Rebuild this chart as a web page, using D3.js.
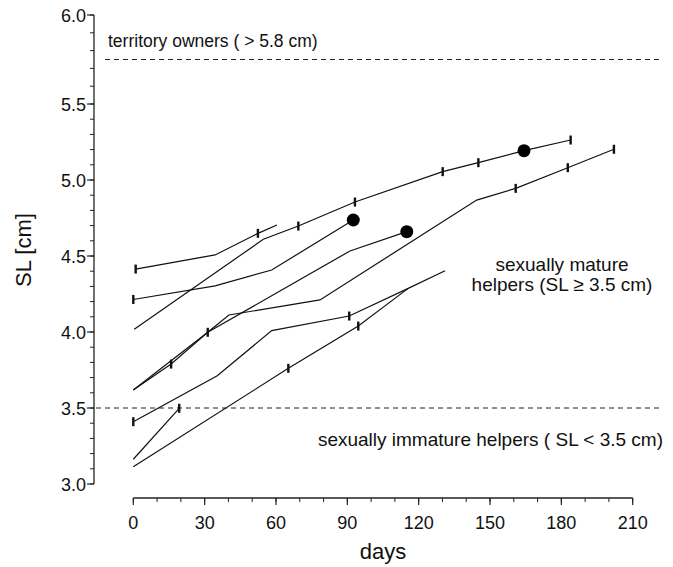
<!DOCTYPE html>
<html>
<head>
<meta charset="utf-8">
<script src="https://cdn.jsdelivr.net/npm/d3@7"></script>
<style>
  body { margin: 0; background: #fff; }
  text { font-family: "Liberation Sans", Arial, sans-serif; fill: #111; }
</style>
</head>
<body>
<div id="chart"></div>
<script>
// growth of single helpers, days vs standard length (cm)
var daysA = [1, 34.4, 52.4, 60.4];
var slA   = [4.414, 4.507, 4.649, 4.704];
var daysB = [0, 34.4, 58.2, 92.5];
var slB   = [4.214, 4.303, 4.408, 4.737];
var daysC = [0.4, 54.7, 69.4, 93.2, 130.1, 145.1, 164.3, 183.9];
var slC   = [4.018, 4.61, 4.697, 4.855, 5.055, 5.114, 5.193, 5.263];
var daysD = [0, 15.9, 31.3, 40.2, 78.5, 144.4, 160.8, 182.7, 202.1];
var slD   = [3.618, 3.789, 3.998, 4.112, 4.211, 4.868, 4.945, 5.081, 5.202];
var daysE = [0, 31.3, 62.4, 91.1, 115];
var slE   = [3.618, 3.998, 4.276, 4.533, 4.66];
var daysF = [0, 35.3, 58.2, 90.8, 115.6, 131.1];
var slF   = [3.41, 3.712, 4.009, 4.105, 4.287, 4.403];
var daysG = [0, 65.2, 94.6, 115.6];
var slG   = [3.114, 3.761, 4.039, 4.287];
var daysH = [0, 19.3];
var slH   = [3.163, 3.498];

// which points carry a measurement bar, which end in a dot
var barsA = [0, 2], barsB = [0], barsC = [2, 3, 4, 5, 7], barsD = [1, 2, 6, 7, 8];
var barsE = [], barsF = [0, 3], barsG = [1, 2], barsH = [1];
var dotB = [3], dotC = [6], dotE = [4];

var xTicks = [0, 30, 60, 90, 120, 150, 180, 210];
var yTicks = [3.0, 3.5, 4.0, 4.5, 5.0, 5.5, 6.0];
var ownerLimit = 5.75;
var matureLimit = 3.5;

var series = [
  {d: daysA, v: slA, bars: barsA, dots: []},
  {d: daysB, v: slB, bars: barsB, dots: dotB},
  {d: daysC, v: slC, bars: barsC, dots: dotC},
  {d: daysD, v: slD, bars: barsD, dots: []},
  {d: daysE, v: slE, bars: barsE, dots: dotE},
  {d: daysF, v: slF, bars: barsF, dots: []},
  {d: daysG, v: slG, bars: barsG, dots: []},
  {d: daysH, v: slH, bars: barsH, dots: []}
];

var width = 673, height = 567;
var svg = d3.select("#chart").append("svg")
    .attr("width", width)
    .attr("height", height);

var x = d3.scaleLinear().domain([0, 210]).range([133.3, 632.7]);
// the printed axis is stretched above 5.5
var y = d3.scaleLinear().domain([3, 5.5, 6]).range([484, 104, 15]);

var axisX = 94;
var axisY = 498;

// y axis
svg.append("line")
    .attr("x1", axisX).attr("x2", axisX)
    .attr("y1", y(3)).attr("y2", y(6))
    .attr("stroke", "#222").attr("stroke-width", 1.3);
svg.selectAll(".yminor").data(d3.range(30, 61).map(function (i) { return i / 10; }))
  .enter().append("line")
    .attr("x1", axisX - 4).attr("x2", axisX)
    .attr("y1", function (d) { return y(d); })
    .attr("y2", function (d) { return y(d); })
    .attr("stroke", "#222").attr("stroke-width", 1);
svg.selectAll(".ymajor").data(yTicks).enter().append("line")
    .attr("x1", axisX - 7).attr("x2", axisX)
    .attr("y1", function (d) { return y(d); })
    .attr("y2", function (d) { return y(d); })
    .attr("stroke", "#222").attr("stroke-width", 1.2);
svg.selectAll(".ylab").data(yTicks).enter().append("text")
    .attr("x", axisX - 8)
    .attr("y", function (d) { return y(d) + 6.5; })
    .attr("text-anchor", "end")
    .attr("font-size", "18px")
    .text(function (d) { return d.toFixed(1); });

// x axis
svg.append("line")
    .attr("x1", x(0)).attr("x2", x(210))
    .attr("y1", axisY).attr("y2", axisY)
    .attr("stroke", "#222").attr("stroke-width", 1.3);
svg.selectAll(".xminor").data(d3.range(0, 211, 10)).enter().append("line")
    .attr("x1", function (d) { return x(d); })
    .attr("x2", function (d) { return x(d); })
    .attr("y1", axisY).attr("y2", axisY + 4)
    .attr("stroke", "#222").attr("stroke-width", 1);
svg.selectAll(".xmajor").data(xTicks).enter().append("line")
    .attr("x1", function (d) { return x(d); })
    .attr("x2", function (d) { return x(d); })
    .attr("y1", axisY).attr("y2", axisY + 7)
    .attr("stroke", "#222").attr("stroke-width", 1.2);
svg.selectAll(".xlab").data(xTicks).enter().append("text")
    .attr("x", function (d) { return x(d); })
    .attr("y", 529)
    .attr("text-anchor", "middle")
    .attr("font-size", "18px")
    .text(function (d) { return d; });

svg.append("text")
    .attr("x", 383).attr("y", 559)
    .attr("text-anchor", "middle")
    .attr("font-size", "22px")
    .text("days");
svg.append("text")
    .attr("transform", "translate(31,250) rotate(-90)")
    .attr("text-anchor", "middle")
    .attr("font-size", "22px")
    .text("SL [cm]");

// thresholds
svg.append("line")
    .attr("x1", 105).attr("x2", 663)
    .attr("y1", y(ownerLimit)).attr("y2", y(ownerLimit))
    .attr("stroke", "#222").attr("stroke-width", 1)
    .attr("stroke-dasharray", "5,4");
svg.append("line")
    .attr("x1", 96).attr("x2", 663)
    .attr("y1", y(matureLimit)).attr("y2", y(matureLimit))
    .attr("stroke", "#222").attr("stroke-width", 1)
    .attr("stroke-dasharray", "5,4");

svg.append("text").attr("x", 108).attr("y", 47)
    .attr("font-size", "17.5px")
    .text("territory owners ( > 5.8 cm)");
svg.append("text").attr("x", 562).attr("y", 271)
    .attr("text-anchor", "middle").attr("font-size", "19px")
    .text("sexually mature");
svg.append("text").attr("x", 562).attr("y", 291)
    .attr("text-anchor", "middle").attr("font-size", "19px")
    .text("helpers (SL \u2265 3.5 cm)");
svg.append("text").attr("x", 663).attr("y", 446)
    .attr("text-anchor", "end").attr("font-size", "19px")
    .text("sexually immature helpers ( SL < 3.5 cm)");

// growth lines
var line = d3.line()
    .x(function (p) { return x(p[0]); })
    .y(function (p) { return y(p[1]); });

series.forEach(function (s) {
  var pts = s.d.map(function (d, i) { return [d, s.v[i]]; });
  svg.append("path")
      .attr("d", line(pts))
      .attr("fill", "none")
      .attr("stroke", "#111")
      .attr("stroke-width", 1.2);
  svg.selectAll(null).data(s.bars.map(function (i) { return pts[i]; }))
    .enter().append("rect")
      .attr("x", function (p) { return x(p[0]) - 1.2; })
      .attr("y", function (p) { return y(p[1]) - 4.5; })
      .attr("width", 2.4).attr("height", 9)
      .attr("fill", "#111");
  svg.selectAll(null).data(s.dots.map(function (i) { return pts[i]; }))
    .enter().append("circle")
      .attr("cx", function (p) { return x(p[0]); })
      .attr("cy", function (p) { return y(p[1]); })
      .attr("r", 6.5)
      .attr("fill", "#000");
});
</script>
</body>
</html>
